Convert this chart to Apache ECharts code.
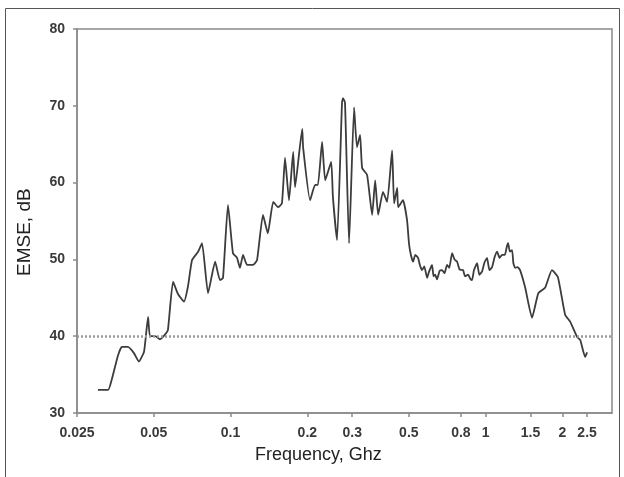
<!DOCTYPE html>
<html>
<head>
<meta charset="utf-8">
<script src="https://cdn.jsdelivr.net/npm/echarts@6/dist/echarts.min.js"></script>
<style>
  html, body { margin: 0; padding: 0; background: #fff; }
  #chart { width: 624px; height: 477px; }
</style>
</head>
<body>
<div id="chart"></div>
<script>
// Frequency sweep (GHz) and measured EMSE (dB)
const freqGhz = [
  0.0302, 0.0331, 0.0343, 0.0362, 0.0375, 0.0396, 0.0418, 0.0437, 0.0458, 0.0475,
  0.0483, 0.0506, 0.0529, 0.0553, 0.0568, 0.0595, 0.0622, 0.0657, 0.0681, 0.0706,
  0.0746, 0.0773, 0.0816, 0.087, 0.0909, 0.0934, 0.0977, 0.1022, 0.106, 0.1089,
  0.1119, 0.116, 0.1225, 0.127, 0.134, 0.140, 0.147, 0.1535, 0.159, 0.1635,
  0.1695, 0.176, 0.179, 0.191, 0.1925, 0.205, 0.2145, 0.220, 0.2285, 0.235,
  0.248, 0.252, 0.2615, 0.2735, 0.276, 0.281, 0.2915, 0.305, 0.313, 0.322,
  0.328, 0.343, 0.359, 0.369, 0.379, 0.396, 0.411, 0.430, 0.4376, 0.450,
  0.454, 0.4745, 0.492, 0.501, 0.51, 0.5195, 0.53, 0.5435, 0.553, 0.5635,
  0.575, 0.5895, 0.60, 0.6165, 0.625, 0.634, 0.645, 0.66, 0.675, 0.69,
  0.706, 0.72, 0.739, 0.755, 0.773, 0.79, 0.816, 0.83, 0.854, 0.87,
  0.885, 0.90, 0.926, 0.945, 0.968, 0.99, 1.013, 1.035, 1.06, 1.085,
  1.109, 1.135, 1.16, 1.19, 1.21, 1.225, 1.245, 1.27, 1.285, 1.305,
  1.335, 1.365, 1.43, 1.52, 1.61, 1.71, 1.82, 1.92, 2.05, 2.145,
  2.285, 2.35, 2.455, 2.50
];
const emseDb = [
  33.0, 33.0, 34.5, 37.5, 38.6, 38.6, 37.8, 36.7, 38.0, 42.5,
  40.0, 40.0, 39.6, 40.2, 40.8, 47.1, 45.5, 44.5, 46.5, 49.9,
  51.0, 52.1, 45.6, 49.7, 47.3, 47.6, 57.1, 50.8, 50.2, 48.9,
  50.6, 49.3, 49.3, 49.9, 55.8, 53.4, 57.5, 56.8, 57.3, 63.2,
  57.7, 64.0, 59.4, 67.0, 64.6, 57.7, 59.7, 59.7, 65.3, 60.3,
  62.7, 58.1, 52.5, 70.4, 71.0, 70.4, 52.1, 69.8, 64.6, 66.2,
  61.9, 61.0, 55.8, 60.3, 55.8, 58.8, 57.5, 64.2, 57.3, 59.3,
  56.8, 57.7, 55.1, 52.0, 50.5, 49.7, 50.6, 50.2, 49.2, 48.6,
  49.1, 47.6, 48.4, 49.3, 47.8, 48.0, 47.4, 48.5, 48.6, 48.2,
  49.3, 48.9, 50.8, 50.0, 49.7, 48.7, 48.6, 47.8, 48.0, 47.5,
  47.3, 48.6, 49.5, 48.0, 48.4, 49.6, 50.2, 48.6, 49.0, 50.3,
  51.0, 50.2, 50.6, 50.6, 51.6, 52.1, 51.0, 51.2, 49.5, 48.9,
  49.0, 48.6, 46.3, 42.4, 45.6, 46.3, 48.6, 47.7, 42.8, 41.9,
  39.9, 39.5, 37.3, 37.9
];
// Axis tick positions / labels
const xTicks = [0.025, 0.05, 0.1, 0.2, 0.3, 0.5, 0.8, 1, 1.5, 2, 2.5];
const yTicks = [30, 40, 50, 60, 70, 80];
const thresholdDb = 40;

const seriesData = freqGhz.map((f, i) => [f, emseDb[i]]);

const labelFont = {
  color: '#3a3a3a', fontSize: 14, fontWeight: 'bold',
  fontFamily: 'Liberation Sans, Arial, sans-serif'
};

const chart = echarts.init(document.getElementById('chart'), null, { renderer: 'canvas' });
chart.setOption({
  animation: false,
  backgroundColor: '#fff',
  grid: {
    left: 77, right: 12, top: 29, bottom: 64,
    show: true, borderColor: '#8a8a8a', borderWidth: 1.5
  },
  xAxis: {
    type: 'log',
    logBase: 10,
    min: 0.025,
    max: 3.13,
    axisLine: { show: true, lineStyle: { color: '#8a8a8a', width: 1.5 } },
    axisTick: { show: true, customValues: xTicks, length: 4, lineStyle: { color: '#8a8a8a', width: 1.5 } },
    axisLabel: Object.assign({
      customValues: xTicks, margin: 13,
      formatter: v => String(+(+v).toPrecision(3))
    }, labelFont),
    splitLine: { show: false },
    minorTick: { show: false }
  },
  yAxis: {
    type: 'value',
    min: yTicks[0], max: yTicks[yTicks.length - 1], interval: 10,
    axisLine: { show: true, lineStyle: { color: '#8a8a8a', width: 1.5 } },
    axisTick: { show: true, length: 4, lineStyle: { color: '#8a8a8a', width: 1.5 } },
    axisLabel: Object.assign({ margin: 12 }, labelFont),
    splitLine: { show: false }
  },
  series: [{
    type: 'line',
    data: seriesData,
    showSymbol: false,
    smooth: 0.15,
    lineStyle: { color: '#3c3c3c', width: 1.8 },
    markLine: {
      silent: true,
      symbol: 'none',
      label: { show: false },
      lineStyle: { color: '#9a9a9a', type: [2, 2], width: 2.5 },
      data: [{ yAxis: thresholdDb }]
    }
  }],
  graphic: [
    {
      type: 'rect', silent: true, z: 0,
      shape: { x: 5.5, y: 8.5, width: 614, height: 480 },
      style: { fill: 'none', stroke: '#555', lineWidth: 1 }
    },
    {
      type: 'text', left: 255, top: 446,
      style: { text: 'Frequency, Ghz', fill: '#222', fontSize: 18, fontFamily: 'Liberation Sans, Arial, sans-serif' }
    },
    {
      type: 'text', rotation: Math.PI / 2, x: 15, y: 276,
      style: { text: 'EMSE, dB', fill: '#222', fontSize: 19, fontFamily: 'Liberation Sans, Arial, sans-serif' }
    }
  ]
});
</script>
</body>
</html>
